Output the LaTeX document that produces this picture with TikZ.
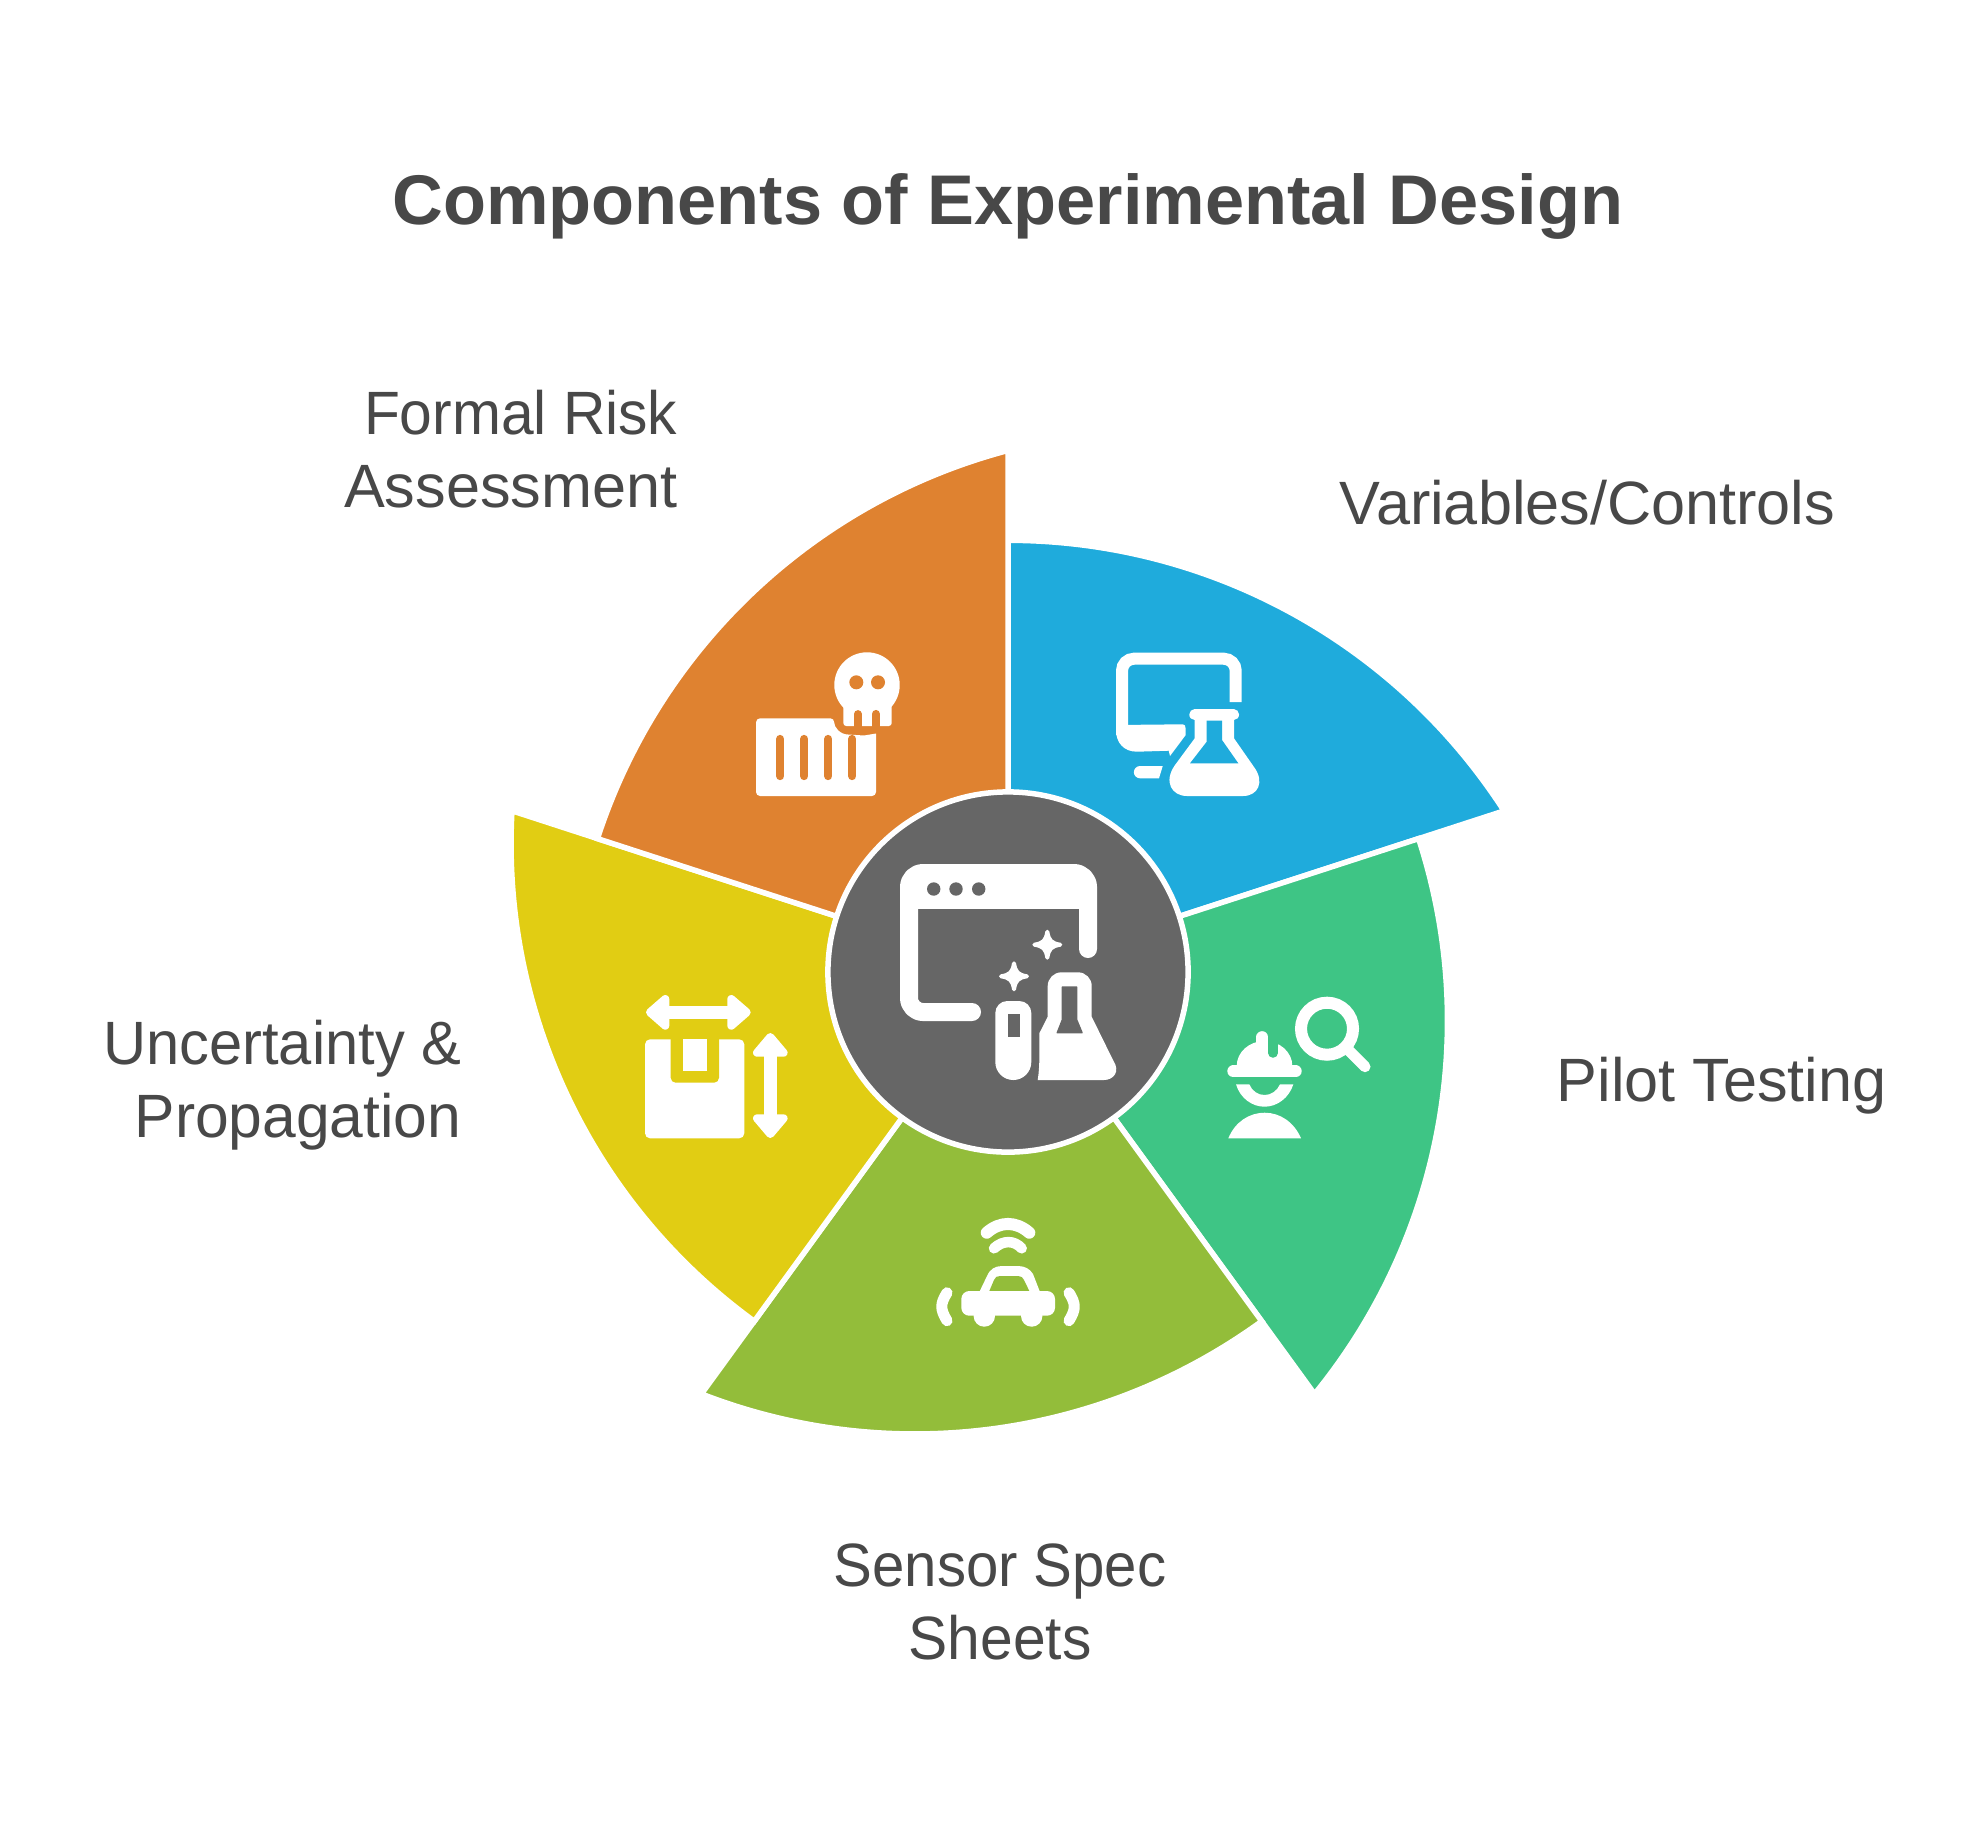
\documentclass[tikz,border=0pt]{standalone}
\usepackage{graphicx}
\usepackage{fontspec}
\setmainfont{Liberation Sans}
\definecolor{txt}{HTML}{484848}
\definecolor{hubc}{HTML}{666666}
\definecolor{cblue}{HTML}{1FABDC}
\definecolor{cgreen}{HTML}{3EC585}
\definecolor{colive}{HTML}{93BD3A}
\definecolor{cyellow}{HTML}{E1CD13}
\definecolor{corange}{HTML}{DF8230}
\tikzset{
  wedgeshape/.style={draw=white,line width=.055cm,line join=miter},
  lab/.style={text=txt,inner sep=0pt,font=\fontsize{17.4pt}{20.8pt}\selectfont},
  ttl/.style={text=txt,inner sep=0pt,font=\fontsize{20pt}{25pt}\selectfont\bfseries},
  ic/.style={fill=white,draw=none},
  st/.style={draw=white,line cap=round,line join=round},
  rh/.style={fill=white,draw=white,line width=.08cm,line join=round},
}
\newcommand{\sx}[2]{\scalebox{#1}[1]{#2}}
\newcommand{\wedgepath}{(0,0) -- (0,-431.7) arc[start angle=-90,end angle=-32.78,radius=5.897cm] -- cycle}
\newcommand{\spark}[2]{\fill[white,draw=white,line width=.04cm,line join=round,shift={(#1,#2)}]
  (0,-13) .. controls (1.5,-4) and (4,-1.5) .. (13,0) .. controls (4,1.5) and (1.5,4) .. (0,13)
  .. controls (-1.5,4) and (-4,1.5) .. (-13,0) .. controls (-4,-1.5) and (-1.5,-4) .. (0,-13) -- cycle;}
\begin{document}
\begin{tikzpicture}[x=.01cm,y=.01cm,yscale=-1]
\useasboundingbox (0,0) rectangle (1980,1836);
\fill[white] (0,0) rectangle (1980,1836);

% wedges
\begin{scope}[shift={(1008,972)}]
  \fill[cblue,wedgeshape] \wedgepath;
  \fill[cgreen,wedgeshape,rotate=72] \wedgepath;
  \fill[colive,wedgeshape,rotate=144] \wedgepath;
  \fill[cyellow,wedgeshape,rotate=216] \wedgepath;
  \fill[corange,wedgeshape,rotate=288] \wedgepath;
\end{scope}
\node[circle,fill=hubc,draw=white,line width=.055cm,minimum size=3.6cm,inner sep=0pt] (hub) at (1008,972) {};

% title and labels
\node[ttl] (title) at (1008,206) {Components of Experimental Design};
\node[lab,anchor=east,align=right] (l1) at (678,449) {\sx{.96}{Formal Risk}\\Assessment};
\node[lab,anchor=west] (l2) at (1339,503) {Variables/Controls};
\node[lab,anchor=west] (l3) at (1556,1086) {Pilot Testing};
\node[lab,align=center] (l4) at (1000,1602) {\sx{.95}{Sensor Spec}\\\sx{.96}{Sheets}};
\node[lab,anchor=east,align=right] (l5) at (462,1085) {\sx{.975}{Uncertainty \&}\\\sx{.99}{Propagation}};

% centre icon
\draw[st,line width=.18cm,rounded corners=.14cm] (972,1012) -- (909,1012) -- (909,873) -- (1088,873) -- (1088,949);
\fill[ic] (909,873) rectangle (1088,909);
\fill[hubc] (933.7,889) circle[radius=.067cm] (956,889) circle[radius=.067cm] (978.7,889) circle[radius=.067cm];
\spark{1047.3}{944.7}
\spark{1014}{976.3}
\fill[ic] (995.3,1013) arc[start angle=180,end angle=270,radius=.12cm] -- (1019.3,1001) arc[start angle=270,end angle=360,radius=.12cm]
  -- (1031.3,1062) arc[start angle=0,end angle=180,radius=.18cm] -- cycle;
\fill[hubc] (1008,1014) rectangle (1020,1036.7);
\fill[ic] (1047.7,1016.7) -- (1047.7,986) arc[start angle=180,end angle=270,radius=.137cm] -- (1078,972.3) arc[start angle=270,end angle=360,radius=.137cm]
  -- (1091.7,1016.7) -- (1113,1060) .. controls (1121,1072) and (1113,1080) .. (1104,1080) -- (1037.7,1080)
  .. controls (1040,1066) and (1039.3,1050) .. (1039.3,1033.3) -- cycle;
\fill[hubc,draw=hubc,line join=round,line width=.015cm] (1062.3,987) -- (1076.7,987) -- (1076.7,1020) -- (1082,1032.7) -- (1057.3,1032.7) -- (1062.3,1020) -- cycle;

% blue icon
\draw[draw=white,line width=.12cm,rounded corners=.12cm] (1122,735) -- (1122,658.7) -- (1235.7,658.7) -- (1235.7,702);
\fill[ic] (1116,725) -- (1181.7,724.3) .. controls (1185,724.3) and (1185.7,726) .. (1185.7,729) -- (1185.7,735) -- (1170,756) -- (1168.7,750.7)
  -- (1137,751.7) .. controls (1124,751.7) and (1116,743) .. (1116,730) -- cycle;
\fill[ic] (1140,766) -- (1162.7,766) -- (1159,778.3) -- (1140,778.3) arc[start angle=90,end angle=270,radius=.0615cm] -- cycle;
\draw[st,line width=.107cm] (1194.6,714.7) -- (1233.7,714.7);
\fill[ic] (1194.7,718) -- (1194.7,738.3) -- (1175,765) .. controls (1163,782) and (1172,796) .. (1187,796) -- (1243,796)
  .. controls (1258,796) and (1265,782) .. (1254,767) -- (1234,738.3) -- (1234,718) -- cycle;
\fill[cblue] (1206.7,720.7) -- (1222,720.7) -- (1222,740) -- (1238.3,763.3) -- (1190,763.3) -- (1206.7,741.7) -- cycle;

% orange icon
\fill[ic] (867,685) circle[radius=.327cm];
\fill[ic,rounded corners=.03cm] (843.3,700) -- (843.3,726) -- (891.7,726) -- (891.7,700) -- cycle;
\draw[st,draw=corange,line width=.078cm] (857.8,714) -- (857.8,730);
\draw[st,draw=corange,line width=.082cm] (875.8,714) -- (875.8,730);
\fill[corange] (856.3,682.3) circle[radius=.07cm] (878,682.3) circle[radius=.07cm];
\fill[ic,rounded corners=.04cm] (756,718.3) -- (834.3,718.3) [sharp corners] .. controls (834,727) and (840,734.5) .. (848,734.5) -- (864,735.5) -- (876,733.5) [rounded corners=.04cm] -- (876,796) -- (756,796) -- cycle;
\foreach \px in {780.2,804.2,828.2,852.2} {\draw[st,draw=corange,line width=.083cm] (\px,739) -- (\px,776);}

% green icon
\draw[draw=white,line width=.12cm] (1327,1028.7) circle[radius=.26cm];
\draw[st,line width=.11cm] (1348.3,1050) -- (1365,1066.7);
\fill[ic] (1236.7,1066) arc[start angle=180,end angle=360,x radius=.278cm,y radius=.25cm] -- cycle;
\draw[st,draw=cgreen,line width=.095cm] (1273,1030) -- (1273,1053);
\draw[st,line width=.117cm] (1262.3,1037) -- (1262.3,1050);
\draw[st,line width=.12cm] (1233.3,1071.3) -- (1295.7,1071.3);
\fill[ic] (1236,1084.3) .. controls (1240,1098) and (1252,1106.7) .. (1264.5,1106.7) .. controls (1277,1106.7) and (1289,1098) .. (1293.3,1084.3)
  -- (1280,1084.3) .. controls (1277,1091) and (1271,1095) .. (1264.5,1095) .. controls (1258,1095) and (1252,1091) .. (1249.3,1084.3) -- cycle;
\fill[ic] (1228.3,1138.3) .. controls (1235,1122) and (1249,1112.7) .. (1264.7,1112.7) .. controls (1280,1112.7) and (1294,1122) .. (1301,1138.3) -- cycle;

% olive icon
\draw[st,line width=.12cm] (986.7,1232.7) .. controls (1000,1221) and (1016,1221) .. (1029.3,1232.7);
\draw[st,line width=.105cm] (994,1248.3) .. controls (1003,1240) and (1014,1240) .. (1021.7,1248.3);
\fill[ic] (979.3,1292) -- (987,1276) .. controls (990,1269) and (995,1266) .. (1002,1266) -- (1018,1266) .. controls (1025,1266) and (1030,1269) .. (1033,1274) -- (1040,1292) -- cycle;
\fill[colive] (989.3,1291) -- (994,1280) .. controls (995,1277) and (997,1276) .. (1000,1276) -- (1018,1276) .. controls (1021,1276) and (1022,1277) .. (1024,1280) -- (1029.3,1291) -- cycle;
\fill[ic,rounded corners=.08cm] (961.3,1291) rectangle (1055,1315.7);
\fill[ic] (984.3,1316) circle[radius=.107cm] (1031.7,1316) circle[radius=.107cm];
\draw[st,line width=.11cm] (947,1292.7) .. controls (940,1304) and (940,1309) .. (947,1320.7);
\draw[st,line width=.11cm] (1069,1292.7) .. controls (1076,1304) and (1076,1309) .. (1069,1320.7);

% yellow icon
\fill[ic] (668,1006) rectangle (729,1018.7);
\fill[rh] (650,1012.3) -- (665.3,999) -- (665.3,1025.7) -- cycle;
\fill[rh] (746.7,1012.3) -- (731.3,999) -- (731.3,1025.7) -- cycle;
\fill[ic] (764,1055) rectangle (776.5,1116);
\fill[rh] (770.3,1037) -- (757,1052.7) -- (783.6,1052.7) -- cycle;
\fill[rh] (770.3,1134) -- (757,1118.3) -- (783.6,1118.3) -- cycle;
\fill[ic,rounded corners=.05cm] (645,1039.3) rectangle (744.3,1138.3);
\fill[cyellow,rounded corners=.05cm] (670.7,1030) -- (670.7,1082.7) -- (719,1082.7) -- (719,1030) -- cycle;
\fill[ic] (682.7,1039.3) rectangle (707.3,1070.7);
\end{tikzpicture}
\end{document}
